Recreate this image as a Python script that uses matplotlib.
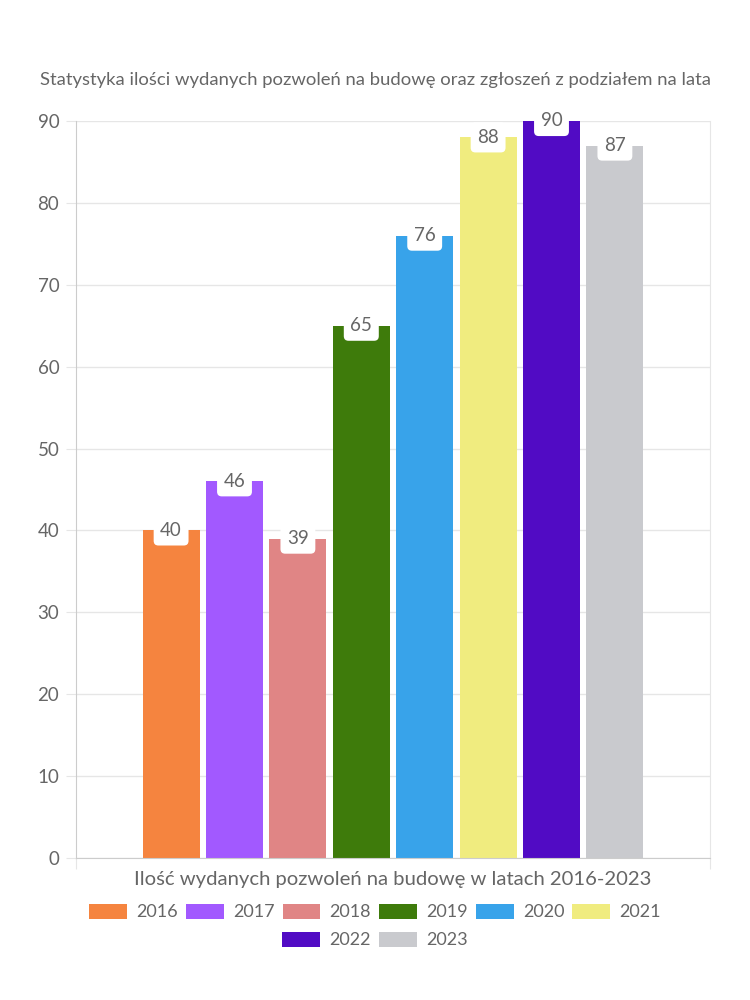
import matplotlib
matplotlib.use("Agg")
import matplotlib.pyplot as plt
from matplotlib.patches import Patch

years = ["2016", "2017", "2018", "2019", "2020", "2021", "2022", "2023"]
values = [40, 46, 39, 65, 76, 88, 90, 87]
colors = ["#F5843F", "#A259FF", "#E08585", "#3E7B0B", "#38A3EA", "#F0EC7F", "#510BC4", "#C9CACE"]
title = "Statystyka ilości wydanych pozwoleń na budowę oraz zgłoszeń z podziałem na lata"
xlabel = "Ilość wydanych pozwoleń na budowę w latach 2016-2023"
yticks = [0, 10, 20, 30, 40, 50, 60, 70, 80, 90]

plt.rcParams['font.family'] = ['Lato', 'DejaVu Sans']
TXT = "#666666"
GRID = "#e6e6e6"
SPINE = "#cccccc"

fig = plt.figure(figsize=(7.5, 10), dpi=100)
ax = fig.add_axes([76/750, 1 - 858/1000, (710-76)/750, (858-121)/1000])

n = len(values)
slot = 0.8 / n
bw = slot * 0.9
for i, (v, c) in enumerate(zip(values, colors)):
    x = -0.4 + slot * (i + 0.5)
    ax.bar(x, v, width=bw, color=c, zorder=2)
    ax.text(x, v, str(v), ha='center', va='center', fontsize=13.5, color=TXT, zorder=4,
            bbox=dict(boxstyle='round,pad=0.35,rounding_size=0.25', fc='white', ec='none'))

ax.set_xlim(-0.5, 0.5)
ax.set_ylim(0, 90)
ax.set_yticks(yticks)
ax.set_yticklabels([str(t) for t in yticks], fontsize=13.5, color=TXT)
ax.set_xticks([-0.5, 0.5])
ax.set_xticklabels([])
ax.tick_params(axis='y', length=7, color=GRID, pad=5)
ax.tick_params(axis='x', length=8, color=GRID)
ax.yaxis.grid(True, color=GRID, lw=1, zorder=0)
ax.set_axisbelow(True)
ax.spines['top'].set_visible(False)
ax.spines['right'].set_color(GRID)
ax.spines['left'].set_color(SPINE)
ax.spines['bottom'].set_color(SPINE)

fig.text(375/750, 1 - 80/1000, title, ha='center', va='center', fontsize=13.3, color=TXT)
fig.text(393/750, 1 - 880/1000, xlabel, ha='center', va='center', fontsize=14.6, color=TXT)

handles = [Patch(facecolor=c, edgecolor='none') for c in colors]
common = dict(frameon=False, fontsize=13, handlelength=2.1, handleheight=0.95,
              handletextpad=0.5, columnspacing=0.45, labelcolor=TXT, borderpad=0, borderaxespad=0)
fig.legend(handles[:6], years[:6], ncol=6, loc='center', bbox_to_anchor=(375/750, 1 - 912/1000), **common)
fig.legend(handles[6:], years[6:], ncol=2, loc='center', bbox_to_anchor=(375/750, 1 - 940/1000), **common)

fig.savefig("out.png", dpi=100, facecolor='white')
